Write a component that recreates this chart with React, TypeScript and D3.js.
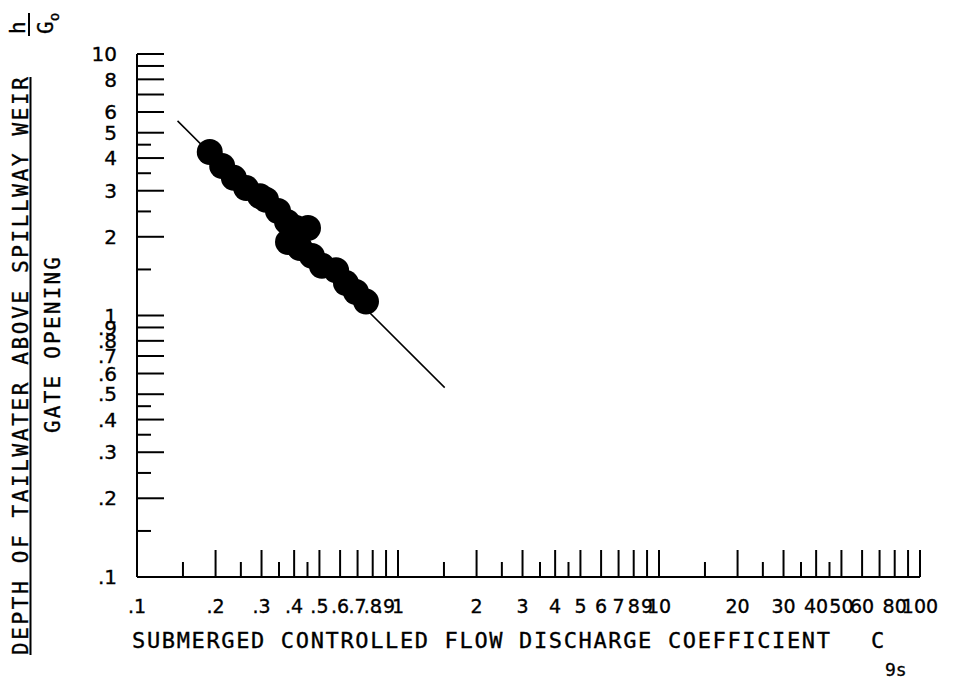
import React from 'react';
import * as d3 from 'd3';

// Data points: submerged controlled flow discharge coefficient vs h/Go
const cgs = [0.190, 0.212, 0.235, 0.262, 0.296, 0.312, 0.347, 0.376, 0.407, 0.452, 0.379, 0.421, 0.468, 0.511, 0.579, 0.632, 0.690, 0.754];
const hOverGo = [4.22, 3.73, 3.36, 3.07, 2.86, 2.77, 2.51, 2.28, 2.16, 2.16, 1.91, 1.81, 1.69, 1.55, 1.49, 1.33, 1.23, 1.13];

// Fitted line end points
const fitX = [0.143, 1.51];
const fitY = [5.55, 0.53];

// Ticks
const xLongTicks = [0.2, 0.3, 0.4, 0.5, 0.6, 0.7, 0.8, 0.9, 1, 2, 3, 4, 5, 6, 7, 8, 9, 10, 20, 30, 40, 50, 60, 70, 80, 90, 100];
const xShortTicks = [0.15, 0.25, 0.35, 0.45, 1.5, 2.5, 3.5, 4.5, 15, 25, 35, 45];
const yLongTicks = [0.2, 0.3, 0.4, 0.5, 0.6, 0.7, 0.8, 0.9, 1, 2, 3, 4, 5, 6, 7, 8, 9, 10];
const yShortTicks = [0.15, 0.25, 0.35, 0.45, 1.5, 2.5, 3.5, 4.5];

const xLabelValues = [0.1, 0.2, 0.3, 0.4, 0.5, 0.6, 0.7, 0.8, 0.9, 1, 2, 3, 4, 5, 6, 7, 8, 9, 10, 20, 30, 40, 50, 60, 80, 100];
const xLabels = ['.1', '.2', '.3', '.4', '.5', '.6', '.7', '.8', '.9', '1', '2', '3', '4', '5', '6', '7', '8', '9', '10', '20', '30', '40', '50', '60', '80', '100'];
const yLabelValues = [10, 8, 6, 5, 4, 3, 2, 1, 0.9, 0.8, 0.7, 0.6, 0.5, 0.4, 0.3, 0.2, 0.1];
const yLabels = ['10', '8', '6', '5', '4', '3', '2', '1', '.9', '.8', '.7', '.6', '.5', '.4', '.3', '.2', '.1'];

const xTitle = 'SUBMERGED CONTROLLED FLOW DISCHARGE COEFFICIENT';
const yTitleTop = 'DEPTH OF TAILWATER ABOVE SPILLWAY WEIR';
const yTitleBottom = 'GATE OPENING';

export default function App() {
  const x = d3.scaleLog().domain([0.1, 100]).range([137, 920]);
  const y = d3.scaleLog().domain([0.1, 10]).range([577, 54]);
  const line = d3.line<number>().x((d) => x(fitX[d])).y((d) => y(fitY[d]));
  const mono = '"DejaVu Sans Mono", monospace';
  const sans = '"DejaVu Sans", sans-serif';
  const x0 = x(0.1);
  const y0 = y(0.1);
  const bold = { stroke: '#000', strokeWidth: 0.35 };

  return (
    <svg width={955} height={683} style={{ position: 'absolute', left: 0, top: 0, background: '#fff' }}>
      <rect width={955} height={683} fill="#fff" />
      {/* axes */}
      <line x1={x0} y1={y0} x2={x(100)} y2={y0} stroke="#000" strokeWidth={2} />
      <line x1={x0} y1={y0} x2={x0} y2={y(10)} stroke="#000" strokeWidth={2} />
      {xLongTicks.map((v) => (
        <line key={'xl' + v} x1={x(v)} x2={x(v)} y1={y0} y2={y0 - 27} stroke="#000" strokeWidth={2} />
      ))}
      {xShortTicks.map((v) => (
        <line key={'xs' + v} x1={x(v)} x2={x(v)} y1={y0} y2={y0 - 15} stroke="#000" strokeWidth={2} />
      ))}
      {yLongTicks.map((v) => (
        <line key={'yl' + v} x1={x0} x2={x0 + 27} y1={y(v)} y2={y(v)} stroke="#000" strokeWidth={2} />
      ))}
      {yShortTicks.map((v) => (
        <line key={'ys' + v} x1={x0} x2={x0 + 14} y1={y(v)} y2={y(v)} stroke="#000" strokeWidth={2} />
      ))}
      {/* tick labels */}
      {xLabelValues.map((v, i) => (
        <text key={'xt' + v} x={x(v)} y={613} fontFamily={sans} fontSize={19} textAnchor="middle" fill="#000" {...bold}>
          {xLabels[i]}
        </text>
      ))}
      {yLabelValues.map((v, i) => (
        <text key={'yt' + v} x={117} y={y(v)} dy="0.36em" fontFamily={sans} fontSize={20} textAnchor="end" fill="#000" {...bold}>
          {yLabels[i]}
        </text>
      ))}
      {/* fitted line */}
      <path d={line([0, 1]) || ''} fill="none" stroke="#000" strokeWidth={1.5} />
      {/* points */}
      {cgs.map((c, i) => (
        <circle key={'p' + i} cx={x(c)} cy={y(hOverGo[i])} r={13} fill="#000" />
      ))}
      {/* x title */}
      <text x={132} y={648} fontFamily={mono} fontSize={22} textLength={698} lengthAdjust="spacing" fill="#000" {...bold}>
        {xTitle}
      </text>
      <text x={871} y={648} fontFamily={mono} fontSize={22} fill="#000" {...bold}>C</text>
      <text x={885} y={676} fontFamily={mono} fontSize={18} fill="#000" {...bold}>9s</text>
      {/* y title (fraction) */}
      <g transform="translate(28,655) rotate(-90)">
        <text x={0} y={0} fontFamily={mono} fontSize={21} textLength={578} lengthAdjust="spacing" fill="#000" {...bold}>
          {yTitleTop}
        </text>
        <line x1={0} x2={578} y1={2.5} y2={2.5} stroke="#000" strokeWidth={2} />
      </g>
      <g transform="translate(60,433) rotate(-90)">
        <text x={0} y={0} fontFamily={mono} fontSize={21} textLength={176} lengthAdjust="spacing" fill="#000" {...bold}>
          {yTitleBottom}
        </text>
      </g>
      <g transform="translate(25,34) rotate(-90)">
        <text x={0} y={0} fontFamily={mono} fontSize={21} fill="#000" {...bold}>h</text>
        <line x1={-2} x2={21} y1={4} y2={4} stroke="#000" strokeWidth={2} />
      </g>
      <g transform="translate(53,34) rotate(-90)">
        <text x={0} y={0} fontFamily={mono} fontSize={21} fill="#000" {...bold}>
          G<tspan dy={6} fontSize={14}>o</tspan>
        </text>
      </g>
    </svg>
  );
}
